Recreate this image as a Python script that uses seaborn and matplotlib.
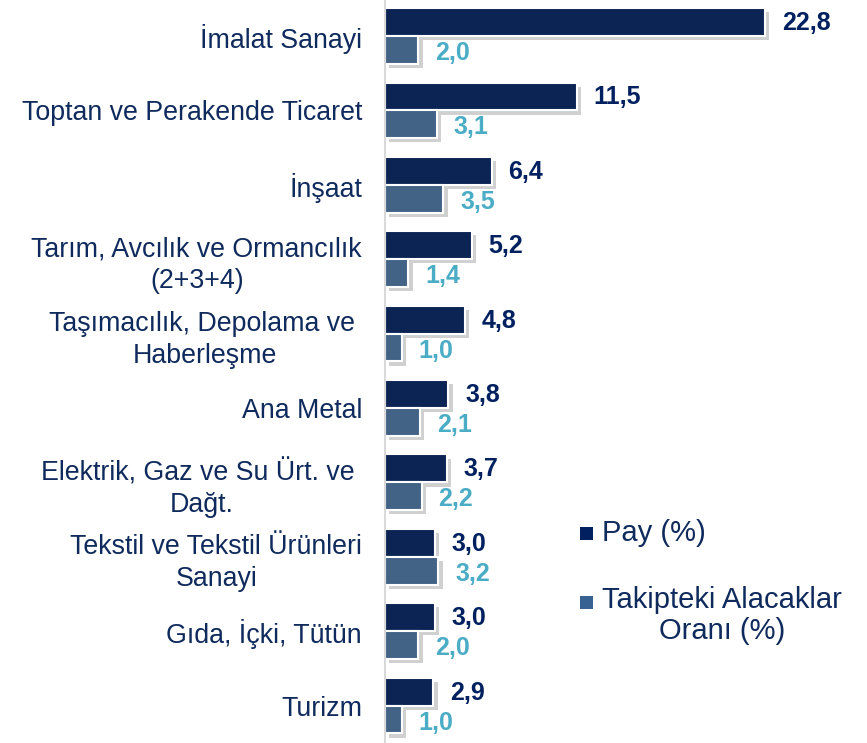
import numpy as np
import pandas as pd
import seaborn as sns
import matplotlib
matplotlib.use("Agg")
import matplotlib.pyplot as plt
import matplotlib.patheffects as pe
from matplotlib.patches import Rectangle

# data
sektorler = [
    "İmalat Sanayi",
    "Toptan ve Perakende Ticaret",
    "İnşaat",
    "Tarım, Avcılık ve Ormancılık\n(2+3+4)",
    "Taşımacılık, Depolama ve \nHaberleşme",
    "Ana Metal",
    "Elektrik, Gaz ve Su Ürt. ve \nDağt.",
    "Tekstil ve Tekstil Ürünleri\nSanayi",
    "Gıda, İçki, Tütün",
    "Turizm",
]
pay = [22.8, 11.5, 6.4, 5.2, 4.8, 3.8, 3.7, 3.0, 3.0, 2.9]
takip = [2.0, 3.1, 3.5, 1.4, 1.0, 2.1, 2.2, 3.2, 2.0, 1.0]
seriler = ["Pay (%)", "Takipteki Alacaklar\nOranı (%)"]

koyu = "#002060"
orta = "#386291"
etiket_mavi = "#4BACC6"
yazi = "#0F2A5C"

df = pd.DataFrame({
    "Sektör": sektorler * 2,
    "Değer": pay + takip,
    "Seri": [seriler[0]] * len(pay) + [seriler[1]] * len(takip),
})

sns.set_theme(style="white")
plt.rcParams["font.family"] = ["Liberation Sans", "DejaVu Sans"]

fig = plt.figure(figsize=(8.67, 7.43), dpi=100)
ax = fig.add_axes([385 / 867, 0, 482 / 867, 1])

sns.barplot(data=df, x="Değer", y="Sektör", hue="Seri", orient="h",
            palette=[koyu, orta], width=0.75, edgecolor="white",
            linewidth=1.5, legend=False, ax=ax)

# bar shadows like the office chart
for p in ax.patches:
    p.set_path_effects([pe.SimplePatchShadow(offset=(3, -3), shadow_rgbFace="#8a8a8a", alpha=0.4),
                        pe.Normal()])

# value labels with comma decimals, nudged a little down
for cont, renk, dy in zip(ax.containers, [koyu, etiket_mavi], [-0.7, -2.2]):
    vals = [b.get_width() for b in cont]
    texts = ax.bar_label(cont, labels=[f"{v:.1f}".replace(".", ",") for v in vals],
                         padding=12, fontsize=18, fontweight="bold", color=renk)
    for t in texts:
        t.xyann = (12, dy)

ax.set_xlim(0, 28.9)
ax.set_ylim(9.503, -0.484)
ax.set_xlabel("")
ax.set_ylabel("")
ax.set_xticks([])
ax.set_yticks(range(len(sektorler)))
ax.set_yticklabels(sektorler, multialignment="center", linespacing=1.3)
ax.tick_params(axis="y", length=0, pad=16.5, labelsize=19.3, labelcolor=yazi)

for s in ["top", "right", "bottom"]:
    ax.spines[s].set_visible(False)
ax.spines["left"].set_color("#D9D9D9")
ax.spines["left"].set_linewidth(1.5)

# legend drawn by hand to match the layout
W, H = 867, 743
for yc, renk in [(533, koyu), (602, orta)]:
    fig.patches.append(Rectangle((580 / W, 1 - (yc + 6.5) / H), 13 / W, 13 / H,
                                 transform=fig.transFigure, facecolor=renk,
                                 edgecolor="none"))
fig.text(602 / W, 1 - 533 / H, seriler[0], fontsize=21, color=yazi, ha="left", va="center")
fig.text(602 / W, 1 - 615.5 / H, seriler[1], fontsize=21, color=yazi, ha="left",
         va="center", multialignment="center", linespacing=1.15)

fig.savefig("out.png", dpi=100)
